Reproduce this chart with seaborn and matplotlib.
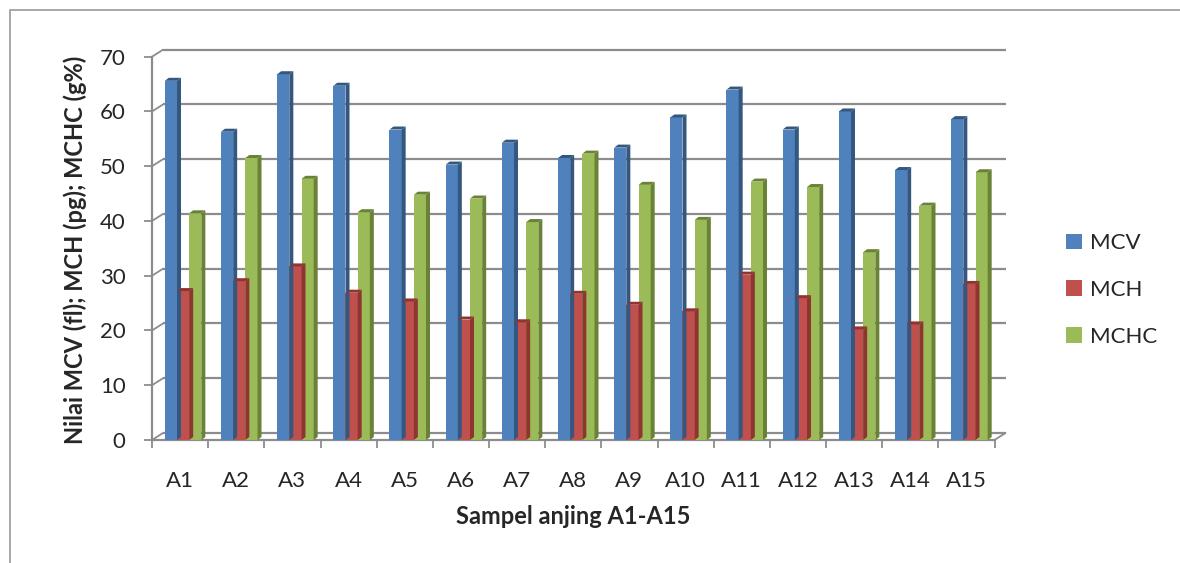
import numpy as np
import pandas as pd
import seaborn as sns
import matplotlib
matplotlib.use("Agg")
import matplotlib.pyplot as plt
from matplotlib.patches import Polygon, Patch, Rectangle
from matplotlib.transforms import ScaledTranslation

# data
samples = ["A1", "A2", "A3", "A4", "A5", "A6", "A7", "A8", "A9", "A10", "A11", "A12", "A13", "A14", "A15"]
mcv = [65.6, 56.3, 66.8, 64.7, 56.7, 50.3, 54.3, 51.5, 53.4, 58.9, 64.0, 56.7, 60.0, 49.3, 58.6]
mch = [27.2, 29.0, 31.7, 26.9, 25.3, 22.0, 21.5, 26.7, 24.7, 23.5, 30.2, 25.9, 20.2, 21.1, 28.5]
mchc = [41.4, 51.5, 47.7, 41.6, 44.8, 44.1, 39.8, 52.3, 46.6, 40.2, 47.2, 46.2, 34.3, 42.8, 48.9]
series = ["MCV", "MCH", "MCHC"]
y_ticks = [0, 10, 20, 30, 40, 50, 60, 70]

front_cols = {"MCV": "#4F81BD", "MCH": "#C0504D", "MCHC": "#9BBB59"}
side_cols = {"MCV": "#34577F", "MCH": "#8E3532", "MCHC": "#6A8236"}
grid_col = "#8C8C8C"

df = pd.DataFrame({
    "Sampel": samples * 3,
    "Nilai": mcv + mch + mchc,
    "Param": ["MCV"] * 15 + ["MCH"] * 15 + ["MCHC"] * 15,
})

sns.set_style("white")
plt.rcParams["font.family"] = ["Lato", "DejaVu Sans"]
fs = 16

fig = plt.figure(figsize=(11.8, 5.63), dpi=100)
ax = fig.add_axes([152 / 1180, 1 - 440 / 563, 842.5 / 1180, 383.3 / 563])

sns.barplot(data=df, x="Sampel", y="Nilai", hue="Param", palette=front_cols,
            width=0.65, saturation=1, legend=False, ax=ax, zorder=3)
ax.set_xlim(-0.5, 14.5)
ax.set_ylim(0, 70)

# pixel -> data scale, used for the fake 3d depth
px_x = ax.transData.transform((1, 0))[0] - ax.transData.transform((0, 0))[0]
px_y = ax.transData.transform((0, 1))[1] - ax.transData.transform((0, 0))[1]
dx, dy = 4 / px_x, 3 / px_y
shift = 3 / px_x

# 3d look for each bar: side face and top cap
bars = list(ax.patches)
for i, p in enumerate(bars):
    name = series[i // 15]
    p.set_x(p.get_x() + shift)
    p.set_edgecolor("none")
    x, w, h = p.get_x(), p.get_width(), p.get_height()
    side = Polygon([(x + w, 0), (x + w, h), (x + w + dx, h + dy), (x + w + dx, dy)],
                   closed=True, facecolor=side_cols[name], edgecolor="none", zorder=3, clip_on=False)
    cap = Polygon([(x, h), (x + w, h), (x + w + dx, h + dy), (x + dx, h + dy)],
                  closed=True, facecolor=side_cols[name], edgecolor="none", zorder=3, clip_on=False)
    ax.add_patch(side)
    ax.add_patch(cap)

# back wall gridlines, shifted up/right like excel's 3d chart
off_x, off_y = 11, 7  # pixels
back = ax.transData + ScaledTranslation(off_x / 100, off_y / 100, fig.dpi_scale_trans)
ax.hlines(y_ticks, -0.5, 14.5, colors=grid_col, lw=1.6, transform=back, zorder=1, clip_on=False)
for v in y_ticks:
    ax.annotate("", xy=(-0.5, v), xytext=(off_x * 0.72, off_y * 0.72), textcoords="offset points",
                arrowprops=dict(arrowstyle="-", color=grid_col, lw=1.3, shrinkA=0, shrinkB=0),
                annotation_clip=False, zorder=1)
ax.annotate("", xy=(14.5, 0), xytext=(off_x * 0.72, off_y * 0.72), textcoords="offset points",
            arrowprops=dict(arrowstyle="-", color=grid_col, lw=1.3, shrinkA=0, shrinkB=0),
            annotation_clip=False, zorder=1)

# axes styling
for s in ["top", "right"]:
    ax.spines[s].set_visible(False)
for s in ["left", "bottom"]:
    ax.spines[s].set_color(grid_col)
    ax.spines[s].set_linewidth(1.6)
ax.set_yticks(y_ticks)
ax.tick_params(axis="y", length=6, width=1.3, color=grid_col, pad=13, labelsize=fs, left=True)
ax.set_xticks(range(15))
ax.set_xticklabels(samples)
ax.set_xticks(np.arange(-0.5, 15, 1), minor=True)
ax.tick_params(axis="x", which="major", length=0, pad=22, labelsize=fs)
ax.tick_params(axis="x", which="minor", length=6, width=1.3, color=grid_col, bottom=True)
ax.set_xlabel("")
ax.set_ylabel("")

fig.text(573 / 1180, 1 - 517 / 563, "Sampel anjing A1-A15", ha="center", va="center",
         fontsize=17, fontweight="bold")
fig.text(75 / 1180, 1 - 250 / 563, "Nilai MCV (fl); MCH (pg); MCHC (g%)", rotation=90,
         ha="center", va="center", fontsize=17, fontweight="bold")

handles = [Patch(facecolor=front_cols[s], edgecolor="none", label=s) for s in series]
fig.legend(handles=handles, loc="center left", bbox_to_anchor=(1066 / 1180, 1 - 290 / 563),
           frameon=False, fontsize=fs, handlelength=0.7, handleheight=0.7,
           handletextpad=0.4, labelspacing=1.2, borderpad=0, borderaxespad=0)

# chart area outline
fig.patches.append(Rectangle((10 / 1180, -0.1), 2, 1.1 - 11 / 563 + 0.001,
                             transform=fig.transFigure, facecolor="none",
                             edgecolor="#9A9A9A", lw=1.2))

fig.savefig("out.png", dpi=100)
